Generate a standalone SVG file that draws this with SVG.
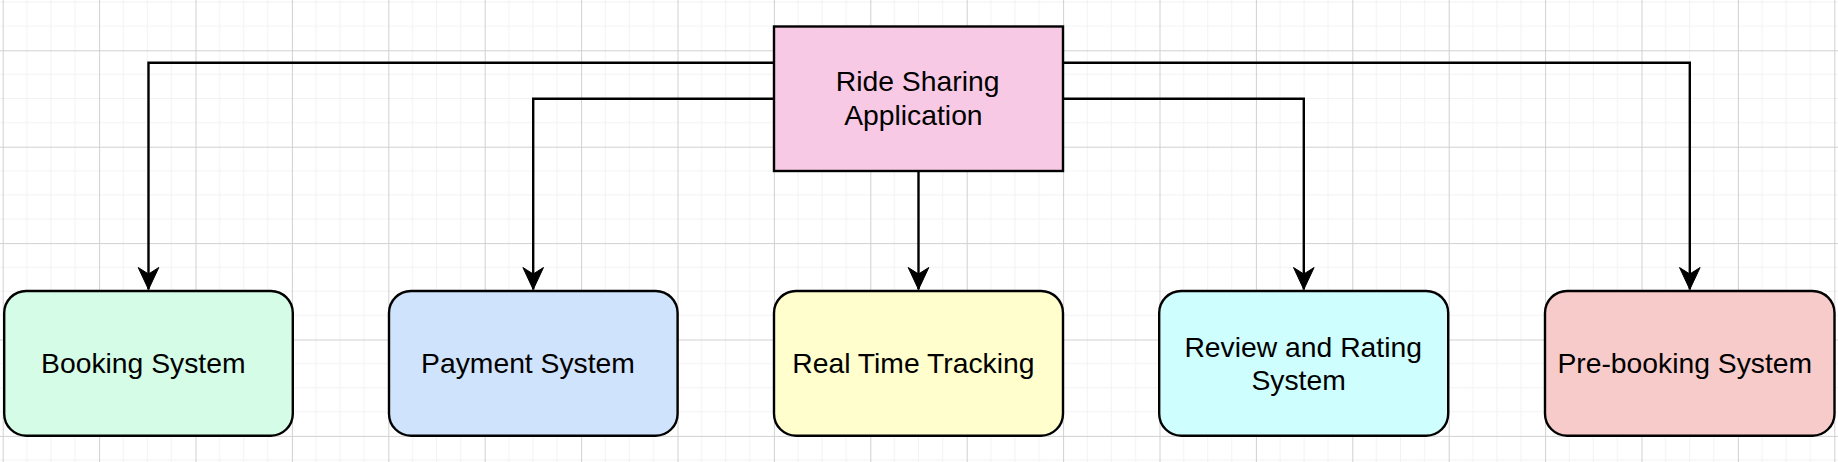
<svg xmlns="http://www.w3.org/2000/svg" width="1838" height="462" viewBox="0 0 1838 462">
  <style>
    .box { stroke: #000; stroke-width: 2.4; }
    .lbl { font-family: "Liberation Sans", Arial, sans-serif; font-size: 28.3px; fill: #000; text-anchor: middle; }
    .edge { fill: none; stroke: #000; stroke-width: 2.4; }
    .minor { stroke: #f2f2f2; stroke-width: 1; }
    .major { stroke: #d0d0d0; stroke-width: 1; }
  </style>
  <defs>
    <pattern id="grid" patternUnits="userSpaceOnUse" x="2.7" y="50.3" width="96.4" height="96.4">
      <line class="minor" x1="24.1" y1="0" x2="24.1" y2="96.4"/>
      <line class="minor" x1="48.2" y1="0" x2="48.2" y2="96.4"/>
      <line class="minor" x1="72.3" y1="0" x2="72.3" y2="96.4"/>
      <line class="minor" x1="0" y1="24.1" x2="96.4" y2="24.1"/>
      <line class="minor" x1="0" y1="48.2" x2="96.4" y2="48.2"/>
      <line class="minor" x1="0" y1="72.3" x2="96.4" y2="72.3"/>
      <line class="major" x1="0.5" y1="0" x2="0.5" y2="96.4"/>
      <line class="major" x1="0" y1="0.5" x2="96.4" y2="0.5"/>
    </pattern>
    <marker id="arrow" markerUnits="userSpaceOnUse" markerWidth="28" markerHeight="26" viewBox="-25 -13 28 26" refX="0" refY="0" orient="auto" overflow="visible">
      <path d="M0,0 L-22,-10.3 L-15.5,0 L-22,10.3 Z" fill="#000" stroke="#000" stroke-width="1"/>
    </marker>
  </defs>
  <rect x="0" y="0" width="1838" height="462" fill="#ffffff"/>
  <rect x="0" y="0" width="1838" height="462" fill="url(#grid)"/>

  <g id="connectors">
    <path class="edge" d="M774,62.7 H148.5 V289.5" marker-end="url(#arrow)"/>
    <path class="edge" d="M774,98.7 H533.2 V289.5" marker-end="url(#arrow)"/>
    <path class="edge" d="M918.5,171 V289.5" marker-end="url(#arrow)"/>
    <path class="edge" d="M1063,98.7 H1303.8 V289.5" marker-end="url(#arrow)"/>
    <path class="edge" d="M1063,62.7 H1689.8 V289.5" marker-end="url(#arrow)"/>
  </g>

  <g id="ride-sharing-application">
    <rect class="box" x="774" y="26.5" width="289" height="144.5" fill="#f8c9e4"/>
    <text class="lbl" x="917.6" y="91">Ride Sharing</text>
    <text class="lbl" x="913.4" y="124.5">Application</text>
  </g>

  <g id="booking-system">
    <rect class="box" x="4.2" y="291" width="288.6" height="144.7" rx="22" ry="22" fill="#d5fce6"/>
    <text class="lbl" x="143.3" y="372.7">Booking System</text>
  </g>

  <g id="payment-system">
    <rect class="box" x="389" y="291" width="288.6" height="144.7" rx="22" ry="22" fill="#d0e3fc"/>
    <text class="lbl" x="528" y="372.7">Payment System</text>
  </g>

  <g id="real-time-tracking">
    <rect class="box" x="774" y="291" width="289" height="144.7" rx="22" ry="22" fill="#fffecc"/>
    <text class="lbl" x="913.4" y="372.7">Real Time Tracking</text>
  </g>

  <g id="review-and-rating-system">
    <rect class="box" x="1159.2" y="291" width="289" height="144.7" rx="22" ry="22" fill="#cffefe"/>
    <text class="lbl" x="1303.2" y="356.7">Review and Rating</text>
    <text class="lbl" x="1298.6" y="389.6">System</text>
  </g>

  <g id="pre-booking-system">
    <rect class="box" x="1545" y="291" width="289.5" height="144.7" rx="22" ry="22" fill="#f8cbcb"/>
    <text class="lbl" x="1684.8" y="372.7">Pre-booking System</text>
  </g>
</svg>
